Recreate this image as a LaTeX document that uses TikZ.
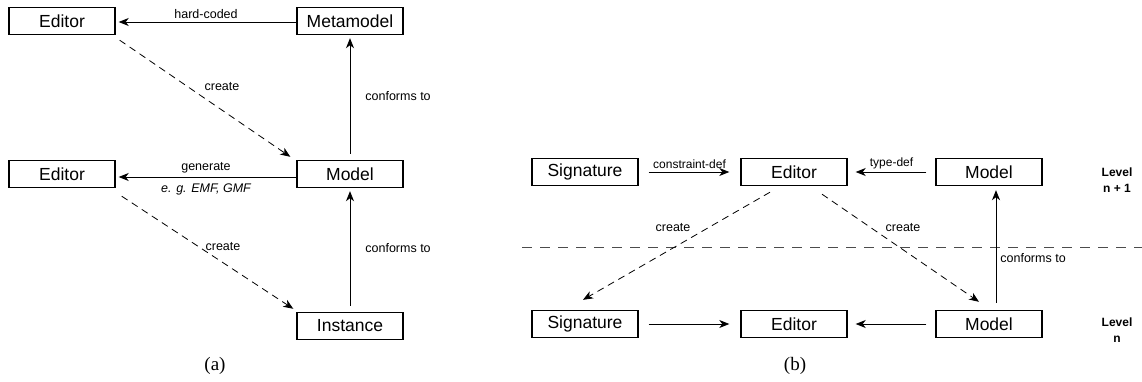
\documentclass[tikz,border=0pt]{standalone}
\usepackage{fontspec}
\setmainfont{Liberation Sans}
\newfontfamily\capfont{Liberation Serif}
\usetikzlibrary{arrows.meta,calc,positioning}
\begin{document}
\begin{tikzpicture}[x=1pt,y=-1pt,
  box/.style={draw,line width=1.4pt,minimum width=106pt,minimum height=27pt,inner sep=0pt,font=\fontsize{17.5}{20}\selectfont},
  lbl/.style={font=\fontsize{12.5}{14}\selectfont,inner sep=1pt},
  conn/.style={line width=0.8pt,-{Stealth[length=10pt,width=8pt,inset=3pt]}},
  dconn/.style={conn,dash pattern=on 7pt off 5pt},
  lvl/.style={font=\bfseries\fontsize{12}{16}\selectfont,align=center},
  subcap/.style={font=\capfont\fontsize{19}{22}\selectfont}]
\useasboundingbox (0,0) rectangle (1142,382);

% ---------- (a) ----------
\node[box] (edA)   at (62,21)   {Editor};
\node[box] (meta)  at (350,21)  {Metamodel};
\node[box] (edB)   at (62,174)  {Editor};
\node[box] (modA)  at (350,174) {Model};
\node[box] (inst)  at (350,326) {Instance};

\draw[conn,shorten >=3pt] ($(meta.west)+(0,1)$) -- node[lbl,above=2pt]{hard-coded} ($(edA.east)+(0,1)$);
\draw[conn,shorten >=3pt] ($(modA.west)+(0,3)$) -- node[lbl,above=3pt]{generate}
   node[lbl,below=5pt]{\itshape e. g. EMF, GMF} ($(edB.east)+(0,3)$);
\draw[dconn] ($(edA.south east)+(4,5)$) -- node[lbl,xshift=17pt,yshift=11.5pt]{create} ($(modA.north west)+(-6,-3)$);
\draw[dconn] ($(edB.south east)+(6,8)$) -- node[lbl,xshift=15.5pt,yshift=5.5pt]{create} ($(inst.north west)+(-3,-3)$);
\draw[conn] ($(modA.north)+(0,-6)$) -- node[lbl,right=14pt]{conforms to} ($(meta.south)+(0,3)$);
\draw[conn] ($(inst.north)+(0,-6)$) -- node[lbl,right=14pt]{conforms to} ($(modA.south)+(0,3)$);

\node[subcap] (capA) at (215,366) {(a)};

% ---------- (b) ----------
\node[box] (sigT) at (585,172) {Signature};
\node[box] (edT)  at (794,172) {Editor};
\node[box] (modT) at (989,172) {Model};
\node[box] (sigN) at (585,324) {Signature};
\node[box] (edN)  at (794,324) {Editor};
\node[box] (modN) at (989,324) {Model};

% level separator
\coordinate (sepL) at (522,247);
\coordinate (sepR) at (1142,247);
\draw[line width=0.8pt,black!70,dash pattern=on 10pt off 8pt] (sepL) -- (sepR);

\draw[conn,shorten <=10pt,shorten >=11pt] (sigT.east) -- node[lbl,above=1.5pt,font=\fontsize{12}{14}\selectfont]{constraint-def} (edT.west);
\draw[conn,shorten <=9pt,shorten >=8pt] (modT.west) -- node[lbl,above=1.5pt,font=\fontsize{12}{14}\selectfont]{type-def} (edT.east);
\draw[conn,shorten <=10pt,shorten >=11pt] (sigN.east) -- (edN.west);
\draw[conn,shorten <=9pt,shorten >=8pt] (modN.west) -- (edN.east);

\draw[dconn] ($(edT.south)+(-24,6)$) -- node[lbl,xshift=-3.5pt,yshift=18pt]{create} ($(sigN.north)+(-2,-10)$);
\draw[dconn] ($(edT.south)+(28,8)$) -- node[lbl,xshift=2.5pt,yshift=20pt]{create} ($(modN.north)+(-10,-8)$);
\draw[conn] ($(modN.north)+(7,-7)$) -- node[lbl,pos=0.4,right=3pt]{conforms to} ($(modT.south)+(7,4)$);

\node[lvl] (lvT) at (1117,180) {Level\\n + 1};
\node[lvl] (lvN) at (1117,330) {Level\\n};

\node[subcap] (capB) at (795,366) {(b)};
\end{tikzpicture}
\end{document}
